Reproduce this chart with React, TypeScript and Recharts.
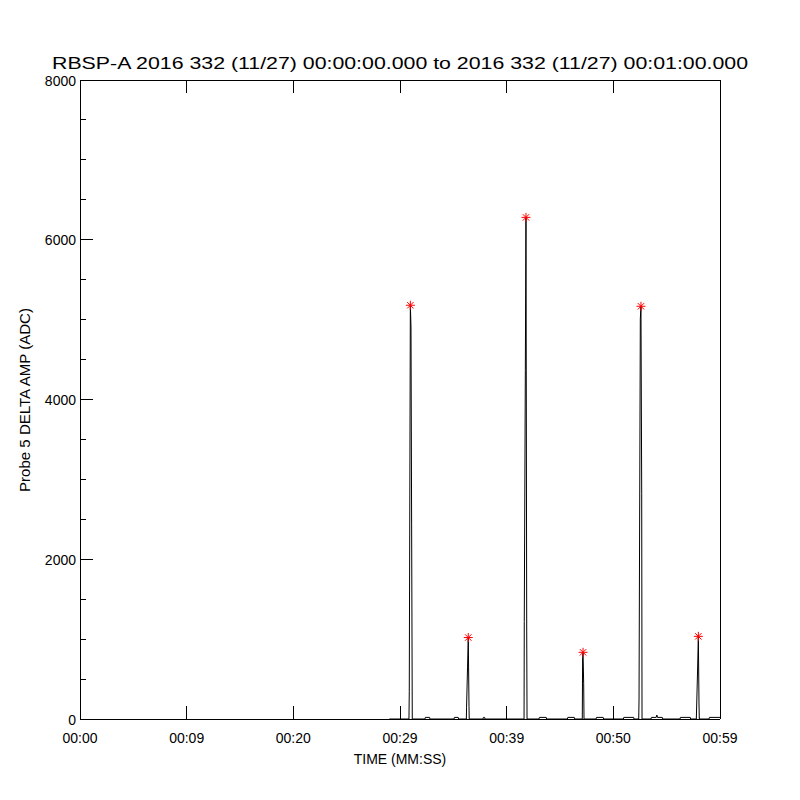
import { ComposedChart, Line, Scatter, XAxis, YAxis } from 'recharts';

const TITLE = 'RBSP-A 2016 332 (11/27) 00:00:00.000 to 2016 332 (11/27) 00:01:00.000';
const Y_LABEL = 'Probe 5 DELTA AMP (ADC)';
const X_LABEL = 'TIME (MM:SS)';

// seconds after 00:00:00
const timeTicks = [0, 10, 20, 30, 40, 50, 60];
const timeTickLabels = ['00:00', '00:09', '00:20', '00:29', '00:39', '00:50', '00:59'];
const ampTicks = [0, 500, 1000, 1500, 2000, 2500, 3000, 3500, 4000, 4500, 5000, 5500, 6000, 6500, 7000, 7500, 8000];

// [seconds, ADC]
const trace: [number, number][] = [
  [29.0, 0],
  [30.84, 0], [30.87, 340], [30.97, 5180], [31.03, 4910], [31.09, 2440], [31.15, 0],
  [32.34, 0], [32.38, 20], [32.77, 20], [32.81, 0],
  [35.06, 0], [35.1, 20], [35.46, 20], [35.5, 0],
  [36.22, 0], [36.24, 140], [36.33, 640], [36.4, 1020], [36.47, 160], [36.49, 0],
  [37.78, 0], [37.82, 20], [37.93, 20], [37.97, 0],
  [41.63, 0], [41.65, 1220], [41.75, 4360], [41.81, 6280], [41.88, 1090], [41.91, 0],
  [43.03, 0], [43.07, 20], [43.71, 20], [43.75, 0],
  [45.69, 0], [45.73, 20], [46.34, 20], [46.38, 0],
  [47.09, 0], [47.12, 770], [47.16, 835], [47.22, 440], [47.25, 0],
  [48.38, 0], [48.42, 20], [49.05, 20], [49.09, 0],
  [50.94, 0], [50.98, 20], [51.9, 20], [51.94, 0],
  [52.38, 0], [52.41, 250], [52.53, 5010], [52.59, 5167], [52.66, 2820], [52.69, 0],
  [53.53, 0], [53.57, 20], [54.02, 20], [54.08, 50], [54.14, 20], [54.59, 20], [54.63, 0],
  [56.25, 0], [56.29, 20], [57.21, 20], [57.25, 0],
  [57.78, 0], [57.8, 100], [57.9, 626], [57.97, 1035], [58.03, 200], [58.06, 0],
  [58.97, 0], [59.01, 20], [60.0, 20],
];

const peakTimes = [30.97, 36.4, 41.81, 47.16, 52.59, 57.97];
const peakAmps = [5180, 1020, 6280, 835, 5167, 1035];

const data = trace.map(([t, v]) => ({ t, v }));
const peaks = peakTimes.map((t, i) => ({ t, v: peakAmps[i] }));

const FONT = '"Liberation Sans", Arial, sans-serif';
const MAJOR = 13;
const MINOR = 6;

function BottomTick(props: any) {
  const { x, y, payload } = props;
  const i = timeTicks.indexOf(payload.value);
  return (
    <g>
      <line x1={x} y1={y} x2={x} y2={y - MAJOR} stroke="#000" shapeRendering="crispEdges" />
      <text x={x} y={y + 24} textAnchor="middle" fontSize={14} fontFamily={FONT} fill="#000">
        {timeTickLabels[i]}
      </text>
    </g>
  );
}

function TopTick(props: any) {
  const { x, y } = props;
  return <line x1={x} y1={y} x2={x} y2={y + MAJOR} stroke="#000" shapeRendering="crispEdges" />;
}

function LeftTick(props: any) {
  const { x, y, payload } = props;
  const major = payload.value % 2000 === 0;
  return (
    <g>
      <line x1={x} y1={y} x2={x + (major ? MAJOR : MINOR)} y2={y} stroke="#000" shapeRendering="crispEdges" />
      {major && (
        <text x={x - 4} y={y} dy="0.4em" textAnchor="end" fontSize={14} fontFamily={FONT} fill="#000">
          {payload.value}
        </text>
      )}
    </g>
  );
}

function RightTick(props: any) {
  const { x, y, payload } = props;
  const major = payload.value % 2000 === 0;
  return <line x1={x} y1={y} x2={x - (major ? MAJOR : MINOR)} y2={y} stroke="#000" shapeRendering="crispEdges" />;
}

function Star(props: any) {
  const { cx, cy } = props;
  const r = 4.5;
  const d = 3.2;
  return (
    <g stroke="#ff0000" strokeWidth={1}>
      <line x1={cx - r} y1={cy} x2={cx + r} y2={cy} />
      <line x1={cx} y1={cy - r} x2={cx} y2={cy + r} />
      <line x1={cx - d} y1={cy - d} x2={cx + d} y2={cy + d} />
      <line x1={cx - d} y1={cy + d} x2={cx + d} y2={cy - d} />
    </g>
  );
}

const axisLine = { stroke: '#000', shapeRendering: 'crispEdges' };

export default function App() {
  return (
    <div style={{ position: 'absolute', left: 0, top: 0, width: 800, height: 800, background: '#fff' }}>
      <ComposedChart width={800} height={800} data={data} margin={{ top: 0, right: 0, bottom: 0, left: 0 }}>
        <XAxis
          dataKey="t"
          type="number"
          domain={[0, 60]}
          ticks={timeTicks}
          interval={0}
          height={81}
          tickSize={0}
          tickMargin={0}
          tickLine={false}
          axisLine={axisLine}
          tick={(p: any) => <BottomTick {...p} />}
        />
        <XAxis
          xAxisId="top"
          orientation="top"
          dataKey="t"
          type="number"
          domain={[0, 60]}
          ticks={timeTicks}
          interval={0}
          height={80}
          tickSize={0}
          tickMargin={0}
          tickLine={false}
          axisLine={axisLine}
          tick={(p: any) => <TopTick {...p} />}
        />
        <YAxis
          type="number"
          domain={[0, 8000]}
          ticks={ampTicks}
          interval={0}
          width={80}
          tickSize={0}
          tickMargin={0}
          tickLine={false}
          axisLine={axisLine}
          tick={(p: any) => <LeftTick {...p} />}
        />
        <YAxis
          yAxisId="right"
          orientation="right"
          type="number"
          domain={[0, 8000]}
          ticks={ampTicks}
          interval={0}
          width={80}
          tickSize={0}
          tickMargin={0}
          tickLine={false}
          axisLine={axisLine}
          tick={(p: any) => <RightTick {...p} />}
        />
        <Line type="linear" dataKey="v" stroke="#000" strokeWidth={1} dot={false} isAnimationActive={false} />
        <Scatter data={peaks} dataKey="v" shape={(p: any) => <Star {...p} />} isAnimationActive={false} />
      </ComposedChart>
      <svg
        width={800}
        height={800}
        style={{ position: 'absolute', left: 0, top: 0, pointerEvents: 'none' }}
        fontFamily={FONT}
      >
        <text x={52} y={69} fontSize={17} textLength={696} lengthAdjust="spacingAndGlyphs" fill="#000">
          {TITLE}
        </text>
        <text x={400} y={764} fontSize={14} textAnchor="middle" fill="#000">
          {X_LABEL}
        </text>
        <text
          x={0}
          y={0}
          fontSize={14}
          textAnchor="middle"
          textLength={184}
          lengthAdjust="spacingAndGlyphs"
          fill="#000"
          transform="translate(30 400) rotate(-90)"
        >
          {Y_LABEL}
        </text>
      </svg>
    </div>
  );
}
